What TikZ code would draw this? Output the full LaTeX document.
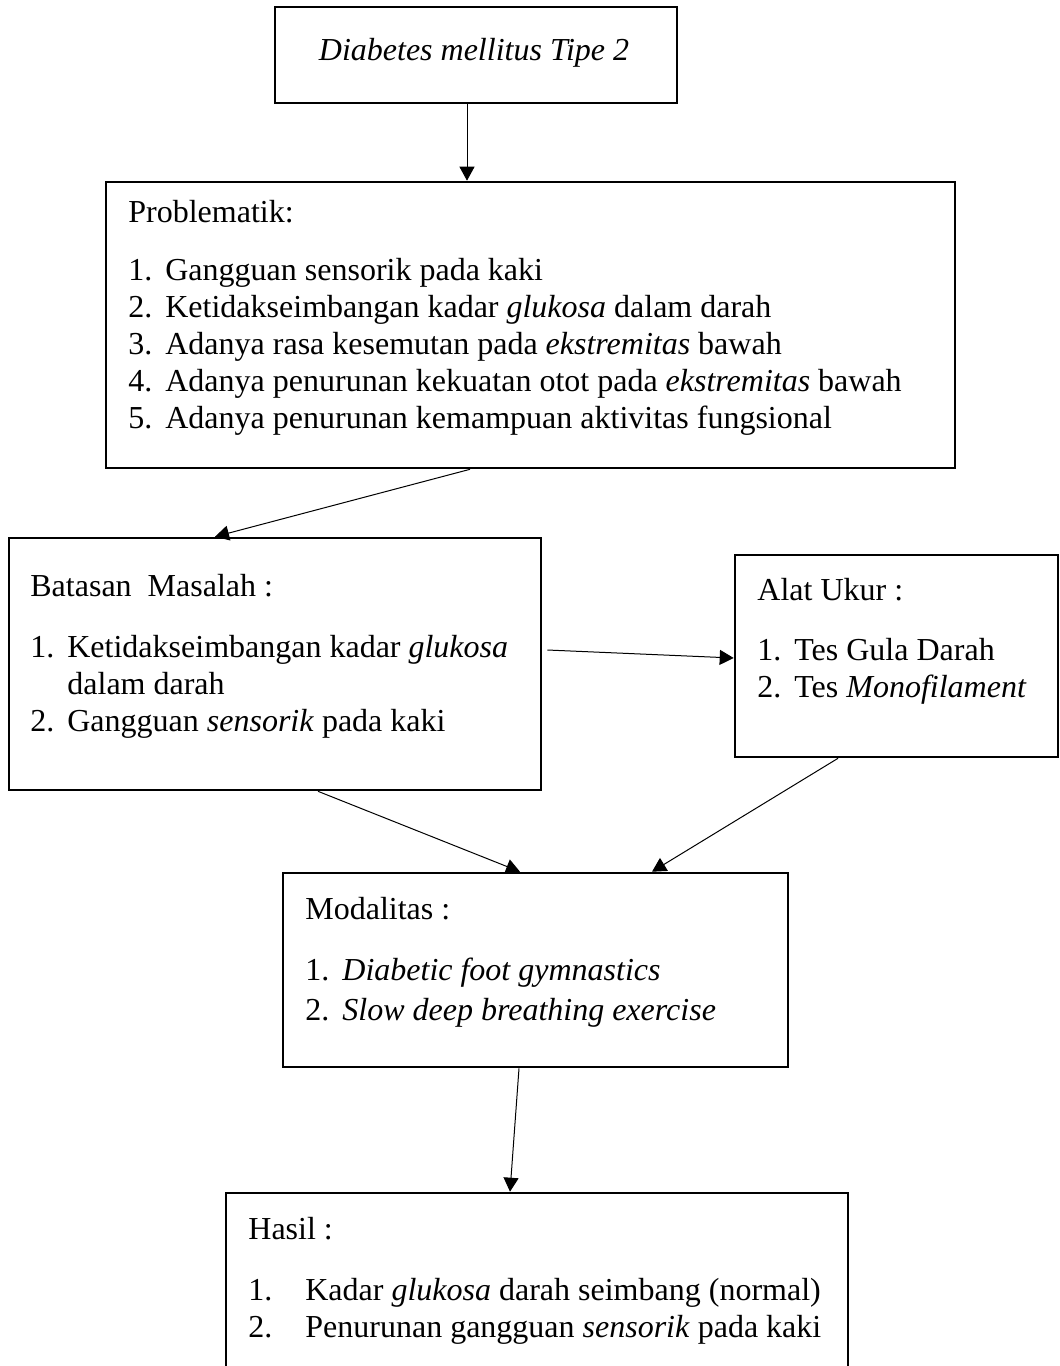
\documentclass[tikz,border=0pt]{standalone}
\usepackage{fontspec}
\setmainfont{Liberation Serif}
\usetikzlibrary{arrows.meta}
\newcommand{\nomor}[1]{\makebox[18.5pt][l]{#1}}
\newcommand{\nomorlebar}[1]{\makebox[28.5pt][l]{#1}}

\begin{document}
\begin{tikzpicture}[x=0.5pt,y=-0.5pt,
  kotak/.style={draw,line width=1.3pt,inner sep=0pt},
  isi/.style={anchor=north west,align=left,inner sep=0pt,font=\fontsize{16}{18.5}\selectfont},
  panah/.style={draw,line width=0.5pt,-{Triangle[length=7pt,width=7.5pt]}}]
\useasboundingbox (0,0) rectangle (1060,1366);
\clip (0,0) rectangle (1060,1366);

\node[kotak,minimum width=201pt,minimum height=48pt] (dm) at (476,55) {};
\node[isi,anchor=center,font=\fontsize{16}{18.5}\selectfont\itshape] (dmteks) at (474,53) {Diabetes mellitus Tipe 2};

\node[kotak,minimum width=424.5pt,minimum height=143pt] (problem) at (530.5,325) {};
\node[isi] (problemteks) at (128,200) {Problematik:\\[10.5pt]
\nomor{1.}Gangguan sensorik pada kaki\\
\nomor{2.}Ketidakseimbangan kadar \textit{glukosa} dalam darah\\
\nomor{3.}Adanya rasa kesemutan pada \textit{ekstremitas} bawah\\
\nomor{4.}Adanya penurunan kekuatan otot pada \textit{ekstremitas} bawah\\
\nomor{5.}Adanya penurunan kemampuan aktivitas fungsional};

\node[kotak,minimum width=266pt,minimum height=126pt] (batasan) at (275,664) {};
\node[isi] (batasanteks) at (30,574) {Batasan\ \ Masalah :\\[12pt]
\nomor{1.}Ketidakseimbangan kadar \textit{glukosa}\\
\nomor{}dalam darah\\
\nomor{2.}Gangguan \textit{sensorik} pada kaki};

\node[kotak,minimum width=161.5pt,minimum height=101pt] (alat) at (896.5,656) {};
\node[isi] (alatteks) at (757,578) {Alat Ukur :\\[11.5pt]
\nomor{1.}Tes Gula Darah\\
\nomor{2.}Tes \textit{Monofilament}};

\node[kotak,minimum width=252.5pt,minimum height=97pt] (modalitas) at (535.5,970) {};
\node[isi] (modalitasteks) at (305,897) {Modalitas :\\[12pt]
\nomor{1.}\textit{Diabetic foot gymnastics}\\[1.5pt]
\nomor{2.}\textit{Slow deep breathing exercise}};

\node[kotak,minimum width=311pt,minimum height=98.5pt] (hasil) at (537,1291.5) {};
\node[isi] (hasilteks) at (248,1217) {Hasil :\\[12pt]
\nomorlebar{1.}Kadar \textit{glukosa} darah seimbang (normal)\\
\nomorlebar{2.}Penurunan gangguan \textit{sensorik} pada kaki};

\path[panah] ([xshift=-4.5pt]dm.south) -- ([xshift=-4.5pt]dm.south |- problem.north);
\path[panah] ([xshift=-30.25pt]problem.south) -- ([xshift=-30pt]batasan.north);
\path[panah] ([shift={(2.5pt,7pt)}]batasan.east) -- ([yshift=-1pt]alat.west);
\path[panah] ([xshift=21.5pt]batasan.south) -- ([xshift=-7.75pt]modalitas.north);
\path[panah] ([xshift=-29.25pt]alat.south) -- ([xshift=58.25pt]modalitas.north);
\path[panah] ([xshift=-8.25pt]modalitas.south) -- ([xshift=-13.5pt]hasil.north);
\end{tikzpicture}
\end{document}
